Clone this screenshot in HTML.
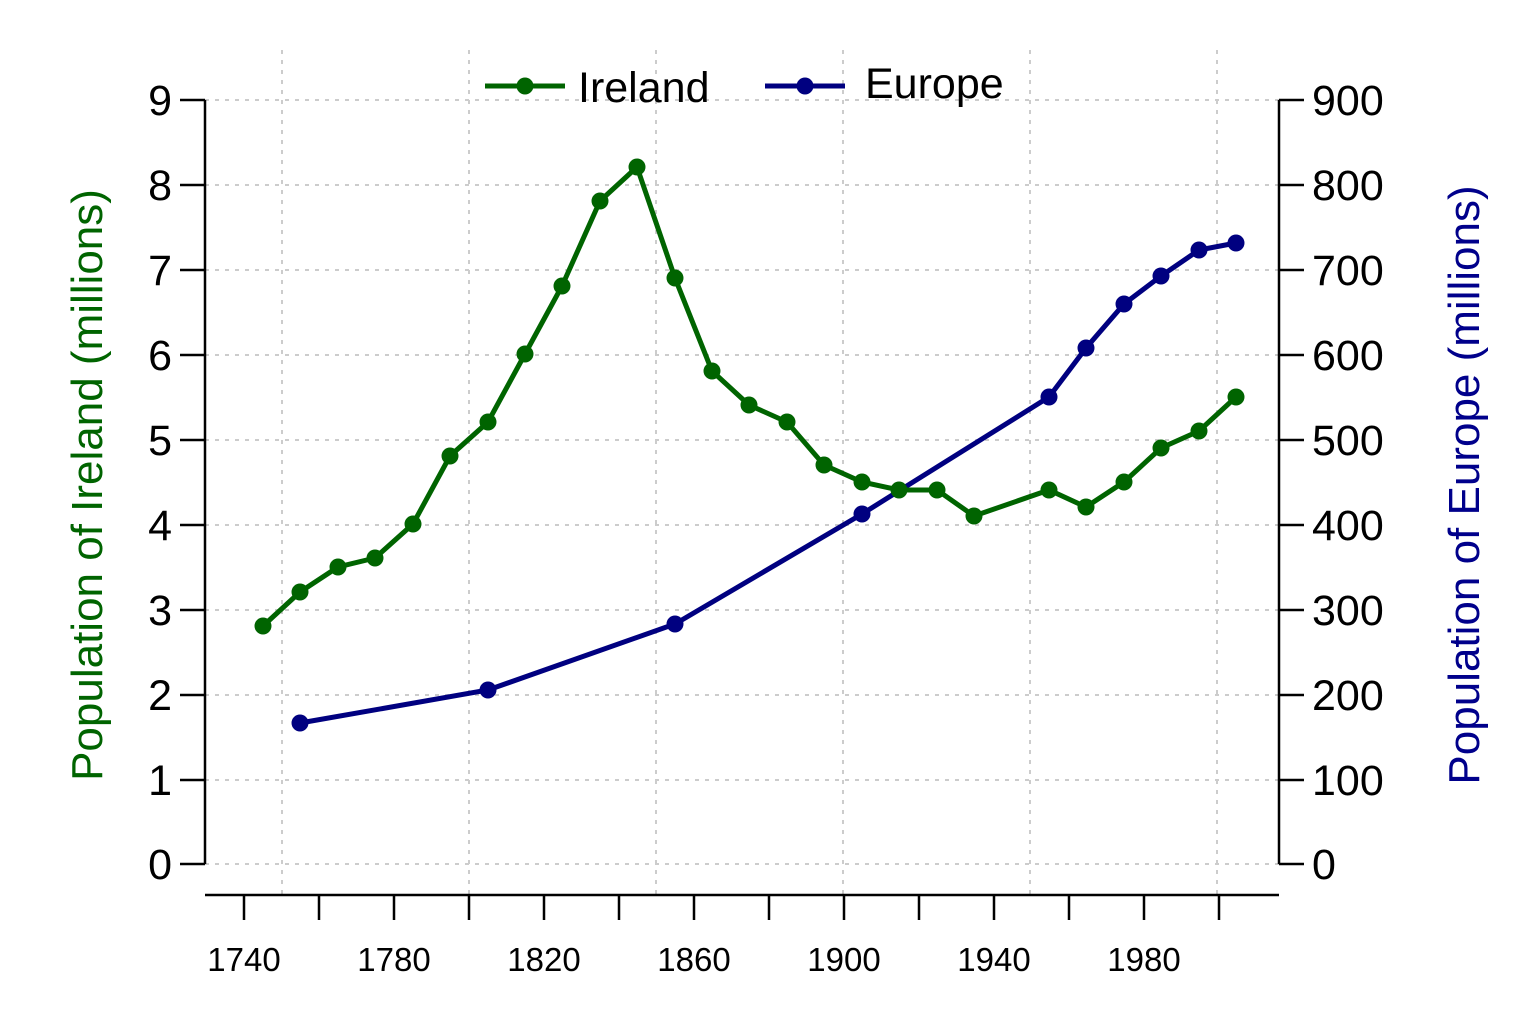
<!DOCTYPE html>
<html><head><meta charset="utf-8"><style>html,body{margin:0;padding:0;background:#fff}</style></head>
<body>
<svg width="1536" height="1024" viewBox="0 0 1536 1024" xmlns="http://www.w3.org/2000/svg" font-family="Liberation Sans, sans-serif">
<rect width="1536" height="1024" fill="#fff"/>
<g stroke="#ccc" stroke-width="2" stroke-dasharray="4,6">
<line x1="282" y1="50" x2="282" y2="895"/><line x1="469" y1="50" x2="469" y2="895"/><line x1="656" y1="50" x2="656" y2="895"/><line x1="843" y1="50" x2="843" y2="895"/><line x1="1030" y1="50" x2="1030" y2="895"/><line x1="1217" y1="50" x2="1217" y2="895"/>
<line x1="205" y1="100" x2="1279" y2="100"/><line x1="205" y1="185" x2="1279" y2="185"/><line x1="205" y1="270" x2="1279" y2="270"/><line x1="205" y1="355" x2="1279" y2="355"/><line x1="205" y1="440" x2="1279" y2="440"/><line x1="205" y1="525" x2="1279" y2="525"/><line x1="205" y1="610" x2="1279" y2="610"/><line x1="205" y1="695" x2="1279" y2="695"/><line x1="205" y1="780" x2="1279" y2="780"/><line x1="205" y1="864" x2="1279" y2="864"/>
</g>
<g stroke="#000" stroke-width="2.5" fill="none">
<line x1="205" y1="100" x2="205" y2="864"/><line x1="1279" y1="100" x2="1279" y2="864"/>
<line x1="205" y1="895" x2="1279" y2="895"/>
<path d="M180 100H205M180 185H205M180 270H205M180 355H205M180 440H205M180 525H205M180 610H205M180 695H205M180 780H205M180 864H205"/>
<path d="M1279 100H1304M1279 185H1304M1279 270H1304M1279 355H1304M1279 440H1304M1279 525H1304M1279 610H1304M1279 695H1304M1279 780H1304M1279 864H1304"/>
<path d="M244 895V920M319 895V920M394 895V920M469 895V920M544 895V920M619 895V920M694 895V920M769 895V920M844 895V920M919 895V920M994 895V920M1069 895V920M1144 895V920M1219 895V920"/>
</g>
<g font-size="43" text-anchor="end" fill="#000">
<text x="172" y="115">9</text><text x="172" y="200">8</text><text x="172" y="285">7</text><text x="172" y="370">6</text><text x="172" y="455">5</text><text x="172" y="540">4</text><text x="172" y="625">3</text><text x="172" y="710">2</text><text x="172" y="795">1</text><text x="172" y="879">0</text>
</g>
<g font-size="43" text-anchor="start" fill="#000">
<text x="1312" y="115">900</text><text x="1312" y="200">800</text><text x="1312" y="285">700</text><text x="1312" y="370">600</text><text x="1312" y="455">500</text><text x="1312" y="540">400</text><text x="1312" y="625">300</text><text x="1312" y="710">200</text><text x="1312" y="795">100</text><text x="1312" y="879">0</text>
</g>
<g font-size="33" text-anchor="middle" fill="#000">
<text x="244" y="971">1740</text><text x="394" y="971">1780</text><text x="544" y="971">1820</text><text x="694" y="971">1860</text><text x="844" y="971">1900</text><text x="994" y="971">1940</text><text x="1144" y="971">1980</text>
</g>
<text transform="translate(102,485) rotate(-90)" font-size="44" fill="#006400" text-anchor="middle">Population of Ireland (millions)</text>
<text transform="translate(1479,485) rotate(-90)" font-size="44" fill="#00008b" text-anchor="middle">Population of Europe (millions)</text>
<polyline fill="none" stroke="#000080" stroke-width="5" points="300,723 488,690 675,624 862,514 1049,397 1086,348 1124,304 1161,276 1199,250 1236,243"/>
<g fill="#000080"><circle cx="300" cy="723" r="8.5"/><circle cx="488" cy="690" r="8.5"/><circle cx="675" cy="624" r="8.5"/><circle cx="862" cy="514" r="8.5"/><circle cx="1049" cy="397" r="8.5"/><circle cx="1086" cy="348" r="8.5"/><circle cx="1124" cy="304" r="8.5"/><circle cx="1161" cy="276" r="8.5"/><circle cx="1199" cy="250" r="8.5"/><circle cx="1236" cy="243" r="8.5"/></g>
<polyline fill="none" stroke="#006400" stroke-width="5" points="263,626 300,592 338,567 375,558 413,524 450,456 488,422 525,354 562,286 600,201 637,167 675,278 712,371 749,405 787,422 824,465 862,482 899,490 937,490 974,516 1049,490 1086,507 1124,482 1161,448 1199,431 1236,397"/>
<g fill="#006400"><circle cx="263" cy="626" r="8.5"/><circle cx="300" cy="592" r="8.5"/><circle cx="338" cy="567" r="8.5"/><circle cx="375" cy="558" r="8.5"/><circle cx="413" cy="524" r="8.5"/><circle cx="450" cy="456" r="8.5"/><circle cx="488" cy="422" r="8.5"/><circle cx="525" cy="354" r="8.5"/><circle cx="562" cy="286" r="8.5"/><circle cx="600" cy="201" r="8.5"/><circle cx="637" cy="167" r="8.5"/><circle cx="675" cy="278" r="8.5"/><circle cx="712" cy="371" r="8.5"/><circle cx="749" cy="405" r="8.5"/><circle cx="787" cy="422" r="8.5"/><circle cx="824" cy="465" r="8.5"/><circle cx="862" cy="482" r="8.5"/><circle cx="899" cy="490" r="8.5"/><circle cx="937" cy="490" r="8.5"/><circle cx="974" cy="516" r="8.5"/><circle cx="1049" cy="490" r="8.5"/><circle cx="1086" cy="507" r="8.5"/><circle cx="1124" cy="482" r="8.5"/><circle cx="1161" cy="448" r="8.5"/><circle cx="1199" cy="431" r="8.5"/><circle cx="1236" cy="397" r="8.5"/></g>
<line x1="485" y1="86" x2="565" y2="86" stroke="#006400" stroke-width="5"/><circle cx="525" cy="86" r="8.5" fill="#006400"/>
<text x="578" y="102" font-size="43" fill="#000">Ireland</text>
<line x1="765" y1="86" x2="845" y2="86" stroke="#000080" stroke-width="5"/><circle cx="805" cy="86" r="8.5" fill="#000080"/>
<text x="865" y="98" font-size="43" fill="#000">Europe</text>
</svg>
</body></html>
